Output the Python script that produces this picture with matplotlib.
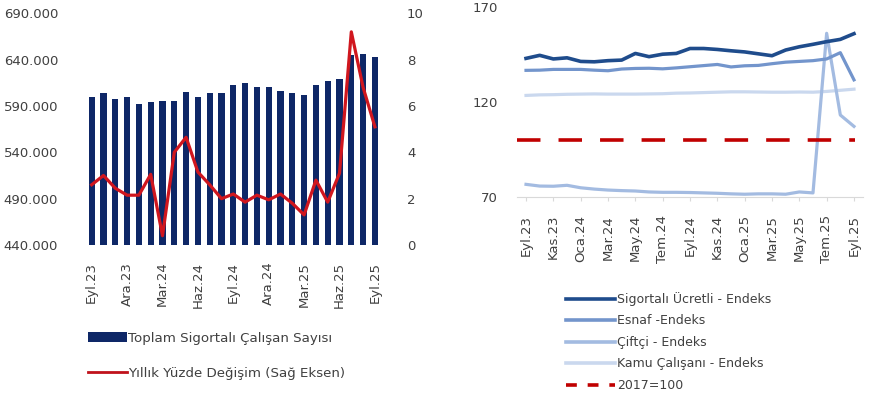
import matplotlib
matplotlib.use("Agg")
import matplotlib.pyplot as plt
from matplotlib.ticker import FuncFormatter
from matplotlib.patches import Patch
from matplotlib.lines import Line2D

months = ["Eyl.23", "Eki.23", "Kas.23", "Ara.23", "Oca.24", "Şub.24", "Mar.24", "Nis.24",
          "May.24", "Haz.24", "Tem.24", "Ağu.24", "Eyl.24", "Eki.24", "Kas.24", "Ara.24",
          "Oca.25", "Şub.25", "Mar.25", "Nis.25", "May.25", "Haz.25", "Tem.25", "Ağu.25", "Eyl.25"]

toplam_sigortali = [600000, 604000, 598000, 599500, 592000, 594000, 595500, 595500, 605500,
                    599500, 604500, 604500, 612500, 615000, 611000, 610000, 606000, 604500,
                    602000, 612500, 616500, 619000, 645000, 646000, 643000]
yillik_degisim = [2.6, 3.0, 2.45, 2.15, 2.15, 3.05, 0.4, 4.0, 4.65, 3.15, 2.6, 2.0, 2.2,
                  1.85, 2.15, 1.95, 2.2, 1.8, 1.3, 2.8, 1.85, 3.1, 9.2, 6.8, 5.1]

sigortali_ucretli = [142.8, 144.4, 142.5, 143.1, 141.2, 141.0, 141.6, 141.9, 145.4, 143.7,
                     145.0, 145.4, 148.0, 148.0, 147.5, 146.8, 146.2, 145.2, 144.2, 147.2,
                     148.9, 150.2, 151.6, 152.8, 155.8]
esnaf = [136.5, 136.6, 137.0, 137.0, 137.0, 136.6, 136.3, 137.2, 137.5, 137.6, 137.3, 137.8,
         138.4, 139.0, 139.6, 138.3, 138.9, 139.1, 140.0, 140.8, 141.2, 141.6, 142.5, 145.8, 131.5]
ciftci = [76.5, 75.6, 75.5, 76.0, 74.7, 74.0, 73.5, 73.2, 73.0, 72.5, 72.3, 72.3, 72.2, 72.0,
          71.8, 71.5, 71.3, 71.5, 71.5, 71.3, 72.5, 72.0, 156.0, 113.0, 107.0]
kamu = [123.3, 123.6, 123.7, 123.9, 124.0, 124.1, 124.0, 124.0, 124.0, 124.1, 124.2, 124.5,
        124.6, 124.8, 125.0, 125.2, 125.2, 125.1, 125.0, 125.0, 125.1, 125.0, 125.4, 126.0, 126.6]
baz_2017 = 100

left_ticks = [0, 3, 6, 9, 12, 15, 18, 21, 24]
right_ticks = list(range(0, 25, 2))

plt.rcParams['font.family'] = ['DejaVu Sans']
W, H = 874, 403
fig = plt.figure(figsize=(W / 100, H / 100), dpi=100)
txt = '#404040'

# ---------------- left chart ----------------
ax = fig.add_axes([84.6 / W, (H - 245) / H, 297.4 / W, (245 - 13.3) / H])
x = list(range(len(months)))
ax.bar(x, toplam_sigortali, width=0.52, color='#0E2767', zorder=2)
ax.set_ylim(440000, 690000)
ax.set_xlim(-0.6, 24.6)
ax.set_yticks([440000, 490000, 540000, 590000, 640000, 690000])
ax.yaxis.set_major_formatter(FuncFormatter(lambda v, p: f"{int(v):,}".replace(",", ".")))
ax.set_xticks(left_ticks)
ax.set_xticklabels([months[i] for i in left_ticks], rotation=90)
for s in ax.spines.values():
    s.set_visible(False)
ax.tick_params(axis='both', length=0, colors=txt, labelsize=9.5)
ax.tick_params(axis='y', pad=19)
ax.tick_params(axis='x', pad=12)

ax2 = ax.twinx()
ax2.plot(x, yillik_degisim, color='#D0161E', lw=2.3, zorder=3)
ax2.set_ylim(0, 10)
ax2.set_yticks([0, 2, 4, 6, 8, 10])
for s in ax2.spines.values():
    s.set_visible(False)
ax2.tick_params(axis='y', length=0, colors=txt, labelsize=9.5, pad=18)

fig.legend(handles=[Patch(facecolor='#0E2767', edgecolor='none'),
                    Line2D([], [], color='#C0121B', lw=2)],
           labels=["Toplam Sigortalı Çalışan Sayısı", "Yıllık Yüzde Değişim (Sağ Eksen)"],
           loc='upper left', bbox_to_anchor=(88 / W, 1 - 332 / H), frameon=False,
           fontsize=9.6, handlelength=2.9, handleheight=0.8, handletextpad=0.12,
           labelspacing=1.65, borderaxespad=0, borderpad=0, labelcolor=txt)

# ---------------- right chart ----------------
bx = fig.add_axes([517 / W, (H - 196.7) / H, 346 / W, (196.7 - 6.7) / H])
bx.plot(x, kamu, color='#CAD8EE', lw=2.3)
bx.plot(x, ciftci, color='#A3BBE1', lw=2.3)
bx.plot(x, esnaf, color='#7395CC', lw=2.3)
bx.plot(x, sigortali_ucretli, color='#1F4C8C', lw=2.6)
bx.plot([-0.66, 24.1], [baz_2017, baz_2017], color='#C00000', lw=2.6,
        dashes=(6.5, 5))
bx.set_ylim(70, 170)
bx.set_xlim(-0.66, 24.66)
bx.set_yticks([70, 120, 170])
bx.set_xticks(right_ticks)
bx.set_xticklabels([months[i] for i in right_ticks], rotation=90)
for k in ['top', 'right', 'left']:
    bx.spines[k].set_visible(False)
bx.spines['bottom'].set_color('#D9D9D9')
bx.tick_params(axis='y', length=0, colors=txt, labelsize=9.5, pad=14)
bx.tick_params(axis='x', length=3, color='#D9D9D9', labelcolor=txt, labelsize=9.5, pad=10)

fig.legend(handles=[Line2D([], [], color='#1F4C8C', lw=2.6),
                    Line2D([], [], color='#7395CC', lw=2.6),
                    Line2D([], [], color='#A3BBE1', lw=2.6),
                    Line2D([], [], color='#CAD8EE', lw=2.6),
                    Line2D([], [], color='#C00000', lw=2.6, dashes=(3, 3))],
           labels=["Sigortalı Ücretli - Endeks", "Esnaf -Endeks", "Çiftçi - Endeks",
                   "Kamu Çalışanı - Endeks", "2017=100"],
           loc='upper left', bbox_to_anchor=(566 / W, 1 - 292 / H), frameon=False,
           fontsize=9.0, handlelength=3.9, handletextpad=0.15,
           labelspacing=0.68, borderaxespad=0, borderpad=0, labelcolor=txt)

fig.savefig("out.png", dpi=100, facecolor='white')
